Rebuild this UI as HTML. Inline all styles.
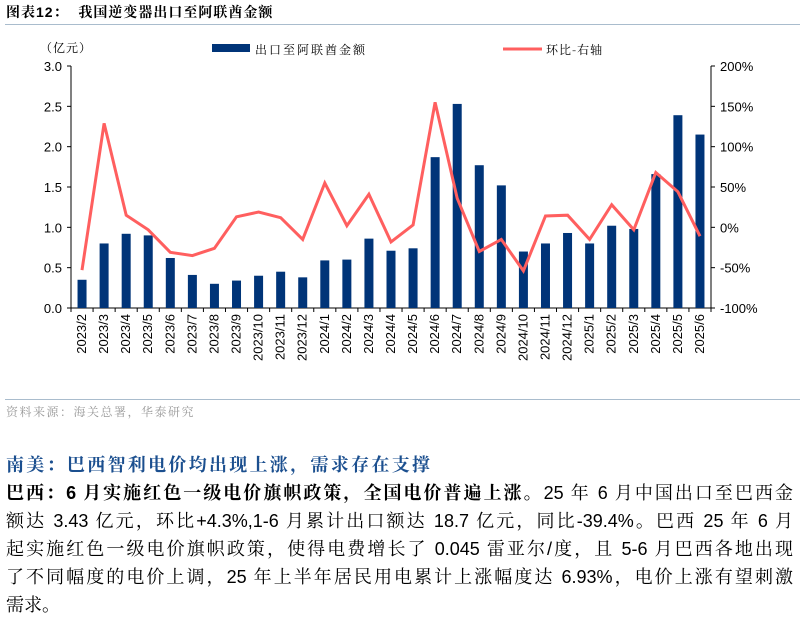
<!DOCTYPE html>
<html><head><meta charset="utf-8">
<style>
body{margin:0;width:800px;height:618px;background:#fff;overflow:hidden;font-family:"Liberation Sans","Noto Sans CJK SC",sans-serif;}
.title{position:absolute;left:6px;top:2px;font-size:14px;font-weight:bold;color:#000;font-family:"Liberation Sans","Noto Serif CJK SC",serif;letter-spacing:1px}
.rule{position:absolute;left:5px;width:795px;height:1px;background:#a9bccd;}
.src{position:absolute;left:6px;top:403px;font-size:12px;color:#999;font-family:"Noto Serif CJK SC","Noto Sans CJK SC",serif;letter-spacing:1.5px}
.h{position:absolute;left:6px;top:451px;font-size:18px;font-weight:bold;color:#1b4f8f;font-family:"Noto Serif CJK SC",serif;letter-spacing:2.3px}
.p{position:absolute;left:6px;top:479px;width:787px;font-size:18px;line-height:28px;color:#000;font-family:"Liberation Sans","Noto Serif CJK SC",serif;}
.p div{text-align:justify;text-align-last:justify;}
.p div.last{text-align-last:left}
</style></head><body>
<div class="title">图表12：&nbsp; 我国逆变器出口至阿联酋金额</div>
<div class="rule" style="top:24px"></div>
<svg id="chart" width="800" height="400" style="position:absolute;left:0;top:0"></svg>
<div class="rule" style="top:399px"></div>
<div class="src">资料来源：海关总署，华泰研究</div>
<div class="h">南美：巴西智利电价均出现上涨，需求存在支撑</div>
<div class="p">
<div><b>巴西：6 月实施红色一级电价旗帜政策，全国电价普遍上涨。</b>25 年 6 月中国出口至巴西金</div>
<div>额达 3.43 亿元，环比+4.3%,1-6 月累计出口额达 18.7 亿元，同比-39.4%。巴西 25 年 6 月</div>
<div>起实施红色一级电价旗帜政策，使得电费增长了 0.045 雷亚尔/度，且 5-6 月巴西各地出现</div>
<div>了不同幅度的电价上调，25 年上半年居民用电累计上涨幅度达 6.93%，电价上涨有望刺激</div>
<div class="last">需求。</div>
</div>
<script>
const categories=["2023/2","2023/3","2023/4","2023/5","2023/6","2023/7","2023/8","2023/9","2023/10","2023/11","2023/12","2024/1","2024/2","2024/3","2024/4","2024/5","2024/6","2024/7","2024/8","2024/9","2024/10","2024/11","2024/12","2025/1","2025/2","2025/3","2025/4","2025/5","2025/6"];
const exportValues=[0.35,0.80,0.92,0.90,0.62,0.41,0.30,0.34,0.40,0.45,0.38,0.59,0.60,0.86,0.71,0.74,1.87,2.53,1.77,1.52,0.70,0.80,0.93,0.80,1.02,0.98,1.66,2.39,2.15];
const momValues=[-53,129,15,-3,-31,-35,-26,13,19,12,-15,55,2,41,-18,3,155,36,-30,-15,-54,14,15,-15,28,-3,68,44,-11];
const leftTicks=["0.0","0.5","1.0","1.5","2.0","2.5","3.0"];
const rightTicks=["-100%","-50%","0%","50%","100%","150%","200%"];
const svg=document.getElementById('chart');const NS="http://www.w3.org/2000/svg";
const X0=71,X1=711,Y0=308,Y1=66;
const slot=(X1-X0)/categories.length;
const xc=i=>X0+slot*(i+0.5);
const yL=v=>Y0-(v/3)*(Y0-Y1);
const yR=v=>Y0-((v+100)/300)*(Y0-Y1);
function mk(t,a,txt){const e=document.createElementNS(NS,t);for(const k in a)e.setAttribute(k,a[k]);if(txt!==undefined)e.textContent=txt;svg.appendChild(e);return e;}
const F='"Liberation Sans",sans-serif';
let e=mk('line',{x1:X0,y1:Y1,x2:X0,y2:Y0,stroke:'#000','stroke-width':1});

e=mk('line',{x1:X1,y1:Y1,x2:X1,y2:Y0,stroke:'#000','stroke-width':1});

e=mk('line',{x1:X0,y1:Y0,x2:X1,y2:Y0,stroke:'#000','stroke-width':1});

leftTicks.forEach((t,i)=>{const y=Y0-i*(Y0-Y1)/6;
 mk('line',{x1:X0-4,y1:y,x2:X0,y2:y,stroke:'#000'});
 const tx=mk('text',{x:X0-9,y:y+5,'text-anchor':'end','font-size':13,'font-family':F},t);
 });
rightTicks.forEach((t,i)=>{const y=Y0-i*(Y0-Y1)/6;
 mk('line',{x1:X1,y1:y,x2:X1+4,y2:y,stroke:'#000'});
 const tx=mk('text',{x:X1+9,y:y+5,'text-anchor':'start','font-size':13,'font-family':F},t);
 });
for(let i=0;i<=categories.length;i++){const x=X0+slot*i;mk('line',{x1:x,y1:Y0,x2:x,y2:Y0+4,stroke:'#000'});}
categories.forEach((c,i)=>{const x=xc(i)+4;
 const tx=mk('text',{x:x,y:Y0+6,'text-anchor':'end','font-size':13,'font-family':F,transform:`rotate(-90 ${x} ${Y0+6})`},c);
 });
exportValues.forEach((v,i)=>{const bw=9;
 const r=mk('rect',{x:xc(i)-bw/2,y:yL(v),width:bw,height:Y0-yL(v),fill:'#003478'});
 });
const pts=momValues.map((v,i)=>xc(i).toFixed(1)+','+yR(v).toFixed(1)).join(' ');
const pl=mk('polyline',{points:pts,fill:'none',stroke:'#ff5f5f','stroke-width':3,'stroke-linejoin':'miter'});

const CJ='"Noto Serif CJK SC","Noto Sans CJK SC",serif';
let u=mk('text',{x:40,y:52,'font-size':12,'font-family':CJ,'letter-spacing':'1'},'（亿元）');

let l1=mk('rect',{x:212,y:44,width:38,height:8,fill:'#003478'});

let l1t=mk('text',{x:255,y:54,'font-size':12,'font-family':CJ,'letter-spacing':'2'},'出口至阿联酋金额');

let l2=mk('line',{x1:503,y1:49,x2:542,y2:49,stroke:'#ff5f5f','stroke-width':3});

let l2t=mk('text',{x:546,y:54,'font-size':12,'font-family':CJ,'letter-spacing':'1'},'环比-右轴');

</script>
</body></html>
